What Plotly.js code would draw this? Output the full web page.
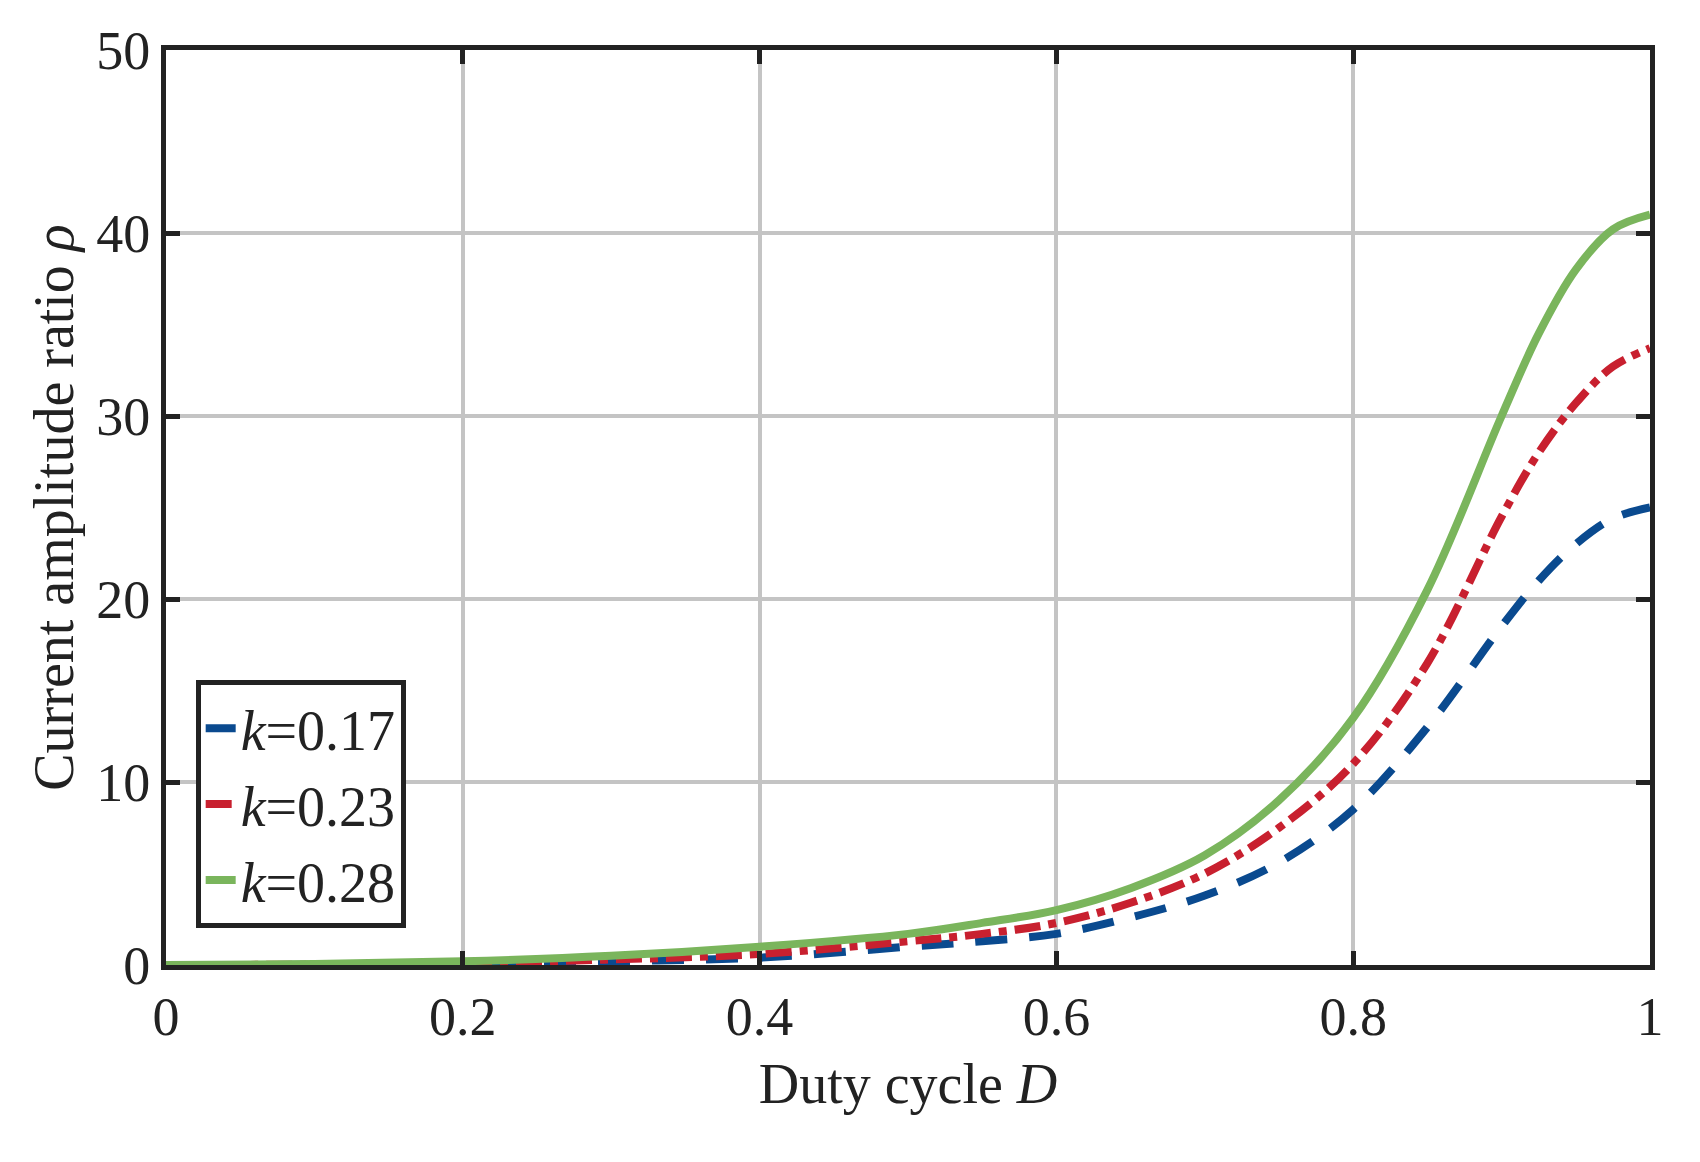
<!DOCTYPE html>
<html>
<head>
<meta charset="utf-8">
<script src="https://cdn.plot.ly/plotly-3.0.1.min.js"></script>
<style>body{margin:0;background:#fff}#chart{width:1700px;height:1162px}</style>
</head>
<body>
<div id="chart"></div>
<script>
const dutyCycle = [0, 0.1, 0.2, 0.3, 0.4, 0.5, 0.55, 0.6, 0.65, 0.7, 0.75, 0.8, 0.85, 0.9, 0.925, 0.95, 0.975, 1];
const rhoK017 = [0, 0.01, 0.05, 0.2, 0.4, 1.0, 1.3, 1.7, 2.6, 3.8, 5.6, 8.5, 13, 18.5, 21, 23, 24.4, 25];
const rhoK023 = [0, 0.02, 0.1, 0.3, 0.6, 1.3, 1.7, 2.3, 3.4, 5.0, 7.5, 11, 16.5, 24.5, 28, 30.7, 32.7, 33.7];
const rhoK028 = [0, 0.05, 0.2, 0.5, 1.0, 1.7, 2.3, 3.0, 4.2, 6.0, 9.0, 13.5, 20.5, 30, 34.5, 38, 40.2, 41];

const serif = 'Liberation Serif, Times New Roman, serif';

const series = [
  {y: rhoK017, name: '<i>k</i>=0.17', color: '#0a4a8f', dash: '32px,22px'},
  {y: rhoK023, name: '<i>k</i>=0.23', color: '#c8202f', dash: '26px,8px,8px,8px'},
  {y: rhoK028, name: '<i>k</i>=0.28', color: '#7ab55c', dash: 'solid'}
];

const traces = series.map(s => ({
  x: dutyCycle,
  y: s.y,
  type: 'scatter',
  mode: 'lines',
  name: s.name,
  line: {color: s.color, width: 8, dash: s.dash, shape: 'spline', smoothing: 1}
}));

Plotly.newPlot('chart', traces, {
  width: 1700,
  height: 1162,
  paper_bgcolor: '#fff',
  plot_bgcolor: '#fff',
  margin: {l: 166, r: 50, t: 50, b: 197},
  font: {family: serif, size: 54, color: '#222'},
  showlegend: true,
  legend: {
    x: 0.02, y: 0.04, xanchor: 'left', yanchor: 'bottom',
    bordercolor: '#222', borderwidth: 5, bgcolor: '#fff',
    font: {family: serif, size: 56},
    tracegroupgap: 0
  },
  xaxis: {
    range: [0, 1],
    tickvals: [0, 0.2, 0.4, 0.6, 0.8, 1],
    ticktext: ['0', '0.2', '0.4', '0.6', '0.8', '1'],
    showgrid: true, gridcolor: '#c4c4c4', gridwidth: 4,
    showline: true, linecolor: '#222', linewidth: 5, mirror: 'ticks',
    ticks: 'inside', ticklen: 14, tickwidth: 5, tickcolor: '#222',
    zeroline: false,
    title: {text: 'Duty cycle <i>D</i>', font: {family: serif, size: 56}, standoff: 20}
  },
  yaxis: {
    range: [0, 50],
    tickvals: [0, 10, 20, 30, 40, 50],
    showgrid: true, gridcolor: '#c4c4c4', gridwidth: 4,
    showline: true, linecolor: '#222', linewidth: 5, mirror: 'ticks',
    ticks: 'inside', ticklen: 14, tickwidth: 5, tickcolor: '#222',
    zeroline: false,
    title: {text: 'Current amplitude ratio <i>ρ</i>', font: {family: serif, size: 56}, standoff: 6}
  }
}, {displayModeBar: false});
</script>
</body>
</html>
